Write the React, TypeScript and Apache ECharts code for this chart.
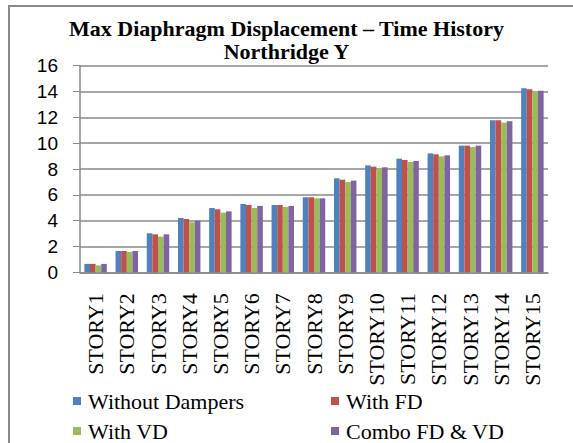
import React, { useEffect, useRef } from "react";
import * as echarts from "echarts";

const categories = ["STORY1","STORY2","STORY3","STORY4","STORY5","STORY6","STORY7","STORY8","STORY9","STORY10","STORY11","STORY12","STORY13","STORY14","STORY15"];
const withoutDampers = [0.65, 1.65, 3.02, 4.21, 4.98, 5.29, 5.21, 5.81, 7.28, 8.28, 8.8, 9.21, 9.81, 11.77, 14.25];
const withFD = [0.65, 1.65, 2.94, 4.13, 4.88, 5.21, 5.21, 5.81, 7.17, 8.18, 8.7, 9.14, 9.81, 11.77, 14.17];
const withVD = [0.53, 1.57, 2.76, 3.87, 4.62, 4.98, 5.06, 5.73, 6.99, 8.0, 8.54, 8.98, 9.7, 11.61, 13.94];
const comboFDVD = [0.65, 1.65, 2.94, 4.0, 4.72, 5.14, 5.14, 5.73, 7.1, 8.13, 8.62, 9.06, 9.81, 11.69, 14.06];
const seriesNames = ["Without Dampers", "With FD", "With VD", "Combo FD & VD"];
const colors = ["#4F81BD", "#C0504D", "#9BBB59", "#8064A2"];

const serif = "Liberation Serif";
const sans = "Liberation Sans";

export default function App() {
  const ref = useRef<HTMLDivElement>(null);
  useEffect(() => {
    if (!ref.current) return;
    const chart = echarts.init(ref.current, undefined, { renderer: "svg" });
    const data = [withoutDampers, withFD, withVD, comboFDVD];
    const legendPos = [
      { left: 73, top: 390 },
      { left: 331, top: 390 },
      { left: 73, top: 420 },
      { left: 331, top: 420 },
    ];
    chart.setOption({
      animation: false,
      backgroundColor: "#ffffff",
      title: {
        text: "Max Diaphragm Displacement – Time History\nNorthridge Y",
        left: "center",
        top: 12,
        textStyle: { fontFamily: serif, fontWeight: "bold", fontSize: 22, lineHeight: 23, color: "#000" },
      },
      graphic: [
        {
          type: "rect",
          shape: { x: 9, y: 6, width: 700, height: 600 },
          style: { fill: "none", stroke: "#8a8a8a", lineWidth: 2 },
          silent: true,
        },
      ],
      legend: seriesNames.map((name, i) => ({
        left: legendPos[i].left,
        top: legendPos[i].top,
        itemWidth: 8,
        itemHeight: 8,
        icon: "rect",
        data: [name],
        padding: 0,
        textStyle: { fontFamily: serif, fontSize: 22, color: "#000", padding: [0, 0, 0, 2] },
      })),
      grid: { left: 80, right: 25, top: 65.7, bottom: 170.7, containLabel: false },
      xAxis: {
        type: "category",
        data: categories,
        axisLine: { lineStyle: { color: "#888", width: 1.5 } },
        axisTick: { show: false },
        axisLabel: {
          rotate: 90,
          margin: 21,
          interval: 0,
          fontFamily: serif,
          fontSize: 22,
          color: "#000",
        },
      },
      yAxis: {
        type: "value",
        min: 0,
        max: 16,
        interval: 2,
        axisLine: { show: true, lineStyle: { color: "#888", width: 1.5 } },
        axisTick: { show: true, length: 7, lineStyle: { color: "#888" } },
        splitLine: { lineStyle: { color: "#888", width: 1.5 } },
        axisLabel: { margin: 22, fontFamily: sans, fontSize: 19, color: "#000" },
      },
      series: seriesNames.map((name, i) => ({
        name,
        type: "bar",
        data: data[i],
        itemStyle: { color: colors[i] },
        barGap: "0%",
        barCategoryGap: "28%",
      })),
    });
    return () => chart.dispose();
  }, []);
  return <div ref={ref} style={{ position: "absolute", left: 0, top: 0, width: 573, height: 443 }} />;
}
